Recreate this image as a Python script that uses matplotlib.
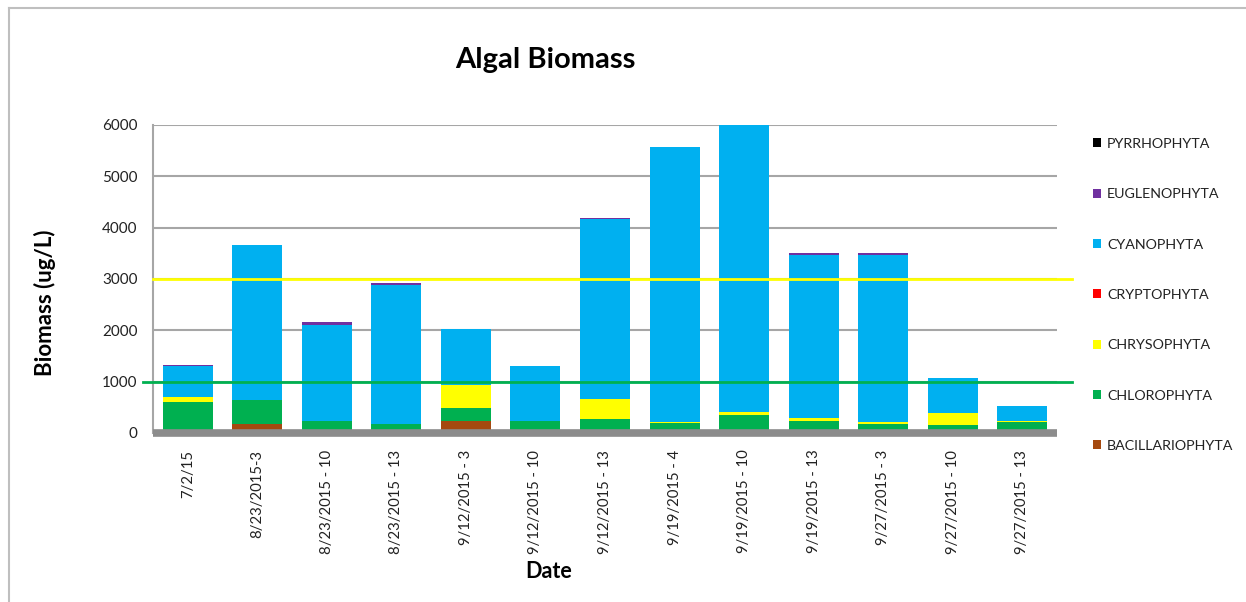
import matplotlib
matplotlib.use("Agg")
import matplotlib.pyplot as plt
from matplotlib.lines import Line2D
from matplotlib.patches import Patch

plt.rcParams['font.family'] = ['Lato', 'DejaVu Sans']

samples = ["7/2/15", "8/23/2015-3", "8/23/2015 - 10", "8/23/2015 - 13",
           "9/12/2015 - 3", "9/12/2015 - 10", "9/12/2015 - 13", "9/19/2015 - 4",
           "9/19/2015 - 10", "9/19/2015 - 13", "9/27/2015 - 3", "9/27/2015 - 10",
           "9/27/2015 - 13"]

bacillariophyta = [20, 175, 0, 0, 240, 0, 0, 0, 0, 0, 0, 0, 0]
chlorophyta = [578, 468, 234, 169, 241, 234, 267, 189, 351, 237, 175, 156, 208]
chrysophyta = [97, 0, 0, 0, 454, 0, 395, 31, 64, 55, 33, 228, 32]
cryptophyta = [0, 0, 0, 0, 0, 0, 0, 0, 0, 0, 0, 10, 0]
cyanophyta = [615, 3020, 1864, 2707, 1082, 1062, 3512, 5358, 5585, 3180, 3263, 670, 280]
euglenophyta = [15, 0, 64, 40, 15, 15, 20, 0, 0, 30, 30, 14, 12]
pyrrhophyta = [0, 0, 0, 0, 0, 0, 0, 0, 0, 0, 0, 0, 0]

series = [
    ("BACILLARIOPHYTA", bacillariophyta, "#A5490F"),
    ("CHLOROPHYTA", chlorophyta, "#00B050"),
    ("CHRYSOPHYTA", chrysophyta, "#FFFF00"),
    ("CRYPTOPHYTA", cryptophyta, "#FF0000"),
    ("CYANOPHYTA", cyanophyta, "#00B0F0"),
    ("EUGLENOPHYTA", euglenophyta, "#7030A0"),
    ("PYRRHOPHYTA", pyrrhophyta, "#000000"),
]

high_threshold = 3000
low_threshold = 1000

W, H = 1246, 602
fig = plt.figure(figsize=(W / 100, H / 100), dpi=100)
ax = fig.add_axes([153 / W, 1 - 433 / H, 904 / W, 308 / H])

x = list(range(len(samples)))
bottom = [0] * len(samples)
for name, vals, color in series:
    ax.bar(x, vals, width=0.72, bottom=bottom, color=color, label=name,
           zorder=2, linewidth=0)
    bottom = [b + v for b, v in zip(bottom, vals)]

ax.set_xlim(-0.5, len(samples) - 0.5)
ax.set_ylim(0, 6000)
ax.set_yticks(range(0, 6001, 1000))
ax.yaxis.grid(True, color="#A6A6A6", linewidth=1.5, zorder=0)
ax.set_axisbelow(True)
ax.tick_params(axis="y", length=0, pad=11, labelsize=11, labelcolor="#222222")
ax.tick_params(axis="x", length=0, pad=12, labelsize=10.7, labelcolor="#222222")
ax.set_xticks(x)
ax.set_xticklabels(samples, rotation=90, va="top")

for side in ("top", "right", "bottom"):
    ax.spines[side].set_visible(False)
ax.spines["left"].set_color("#A6A6A6")
ax.spines["left"].set_linewidth(1.5)

# floor band along the category axis
ax.plot([-0.5, len(samples) - 0.5], [0, 0], color="#8C8C8C", linewidth=5.5,
        solid_capstyle="butt", clip_on=False, zorder=4)

# reference thresholds
ax.plot([-0.5, len(samples) - 0.28], [high_threshold] * 2, color="#FFFF00",
        linewidth=2, clip_on=False, zorder=3)
ax.plot([-0.64, len(samples) - 0.28], [low_threshold] * 2, color="#00B050",
        linewidth=2, clip_on=False, zorder=3)

fig.text(45 / W, 1 - 303 / H, "Biomass (ug/L)", fontsize=16, fontweight="bold",
         rotation=90, ha="center", va="center")
fig.text(549 / W, 1 - 572 / H, "Date", fontsize=15.5, fontweight="bold",
         ha="center", va="center")
fig.text(545 / W, 1 - 60 / H, "Algal Biomass", fontsize=21, fontweight="bold",
         ha="center", va="center")

handles = [Patch(facecolor=c, edgecolor="none", label=n) for n, _, c in series[::-1]]
fig.legend(handles=handles, loc="upper left", bbox_to_anchor=(1080 / W, 1 - 125 / H),
           frameon=False, fontsize=10.3, handlelength=0.6, handleheight=0.6,
           handletextpad=0.4, labelspacing=2.68, labelcolor="#222222")

# outer chart frame
fig.add_artist(Line2D([9 / W, 9 / W], [0, 1 - 8 / H], color="#BFBFBF", linewidth=1.5))
fig.add_artist(Line2D([9 / W, 1], [1 - 8 / H, 1 - 8 / H], color="#BFBFBF", linewidth=1.5))

fig.savefig("out.png", dpi=100)
